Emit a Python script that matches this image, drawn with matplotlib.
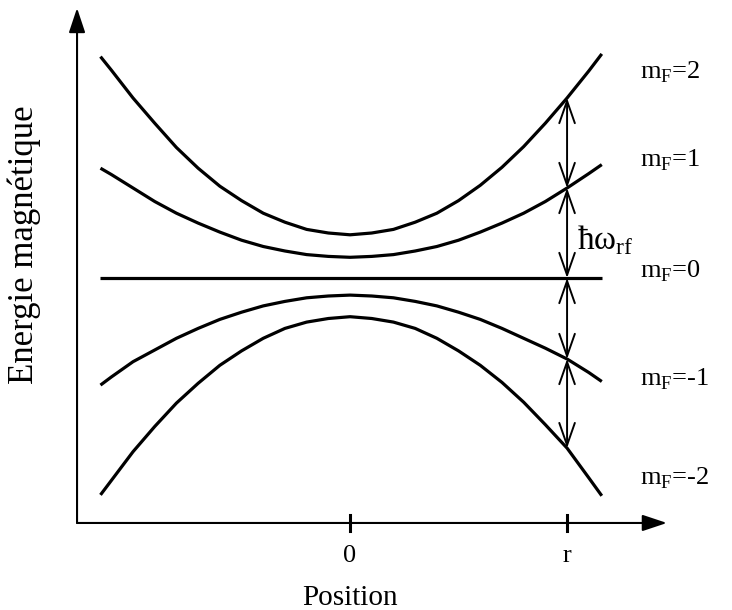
import matplotlib
matplotlib.use("Agg")
import matplotlib.pyplot as plt
from matplotlib.patches import FancyArrowPatch

plt.rcParams["font.family"] = ["Liberation Serif", "DejaVu Serif"]
plt.rcParams["mathtext.fontset"] = "custom"
plt.rcParams["mathtext.rm"] = "Liberation Serif"

# position along the trap (0 at centre, r = 1)
position = [-1.15, -1.1, -1.0, -0.9, -0.8, -0.7, -0.6, -0.5, -0.4, -0.3, -0.2, -0.1, 0.0,
            0.1, 0.2, 0.3, 0.4, 0.5, 0.6, 0.7, 0.8, 0.9, 1.0, 1.1, 1.16]

# magnetic energy of each Zeeman sub-level (units of hbar*omega_rf)
energy_mf2 = [2.46, 2.31, 2.00, 1.72, 1.45, 1.22, 1.02, 0.86, 0.72, 0.62, 0.54, 0.50, 0.48,
              0.50, 0.54, 0.62, 0.72, 0.86, 1.03, 1.23, 1.46, 1.72, 2.00, 2.30, 2.49]
energy_mf1 = [1.22, 1.15, 1.00, 0.85, 0.72, 0.61, 0.51, 0.42, 0.35, 0.30, 0.26, 0.24, 0.23,
              0.24, 0.26, 0.30, 0.35, 0.42, 0.51, 0.61, 0.72, 0.85, 1.00, 1.16, 1.26]
energy_mf0 = [0.0] * 25
energy_mfm1 = [-1.19, -1.10, -0.93, -0.80, -0.67, -0.56, -0.46, -0.38, -0.31, -0.26, -0.22, -0.20, -0.19,
               -0.20, -0.22, -0.26, -0.31, -0.38, -0.46, -0.56, -0.67, -0.78, -0.90, -1.05, -1.15]
energy_mfm2 = [-2.41, -2.25, -1.93, -1.65, -1.39, -1.17, -0.97, -0.81, -0.67, -0.56, -0.49, -0.45, -0.43,
               -0.45, -0.49, -0.56, -0.67, -0.81, -0.97, -1.16, -1.38, -1.63, -1.89, -2.22, -2.42]

levels = [energy_mf2, energy_mf1, energy_mf0, energy_mfm1, energy_mfm2]
level_labels = ["2", "1", "0", "-1", "-2"]
label_heights = [2.29, 1.31, 0.07, -1.13, -2.22]

tick_positions = [0.0, 1.0]
tick_labels = ["0", "r"]
r_value = 1.0

fig = plt.figure(figsize=(7.32, 6.10), dpi=100)
ax = fig.add_axes([0, 0, 1, 1])
ax.set_xlim(-1.613, 1.760)
ax.set_ylim(-3.689, 3.089)
ax.axis("off")

axis_x = -1.258
axis_y = -2.722

# axes with arrow heads
for start, end in [((axis_x, axis_y), (axis_x, 3.0)),
                   ((axis_x, axis_y), (1.46, axis_y))]:
    ax.add_patch(FancyArrowPatch(start, end, arrowstyle="-|>,head_length=0.75,head_width=0.25",
                                 mutation_scale=20, lw=1.5, color="black",
                                 shrinkA=0, shrinkB=0))

for t, lab in zip(tick_positions, tick_labels):
    ax.plot([t, t], [axis_y - 0.09, axis_y + 0.09], color="black", lw=2.2)
    ax.text(t, -3.09, lab, ha="center", va="center", fontsize=19)

for energies, lab, h in zip(levels, level_labels, label_heights):
    ax.plot(position, energies, color="black", lw=2.3, solid_capstyle="butt")
    ax.text(1.336, h, r"m$_\mathregular{F}$=" + lab, ha="left", va="center", fontsize=19)

# double arrows between neighbouring levels at r
r_index = position.index(r_value)
at_r = [energies[r_index] for energies in levels]
for upper, lower in zip(at_r[:-1], at_r[1:]):
    ax.add_patch(FancyArrowPatch((r_value, lower), (r_value, upper),
                                 arrowstyle="<->,head_length=0.8,head_width=0.28",
                                 mutation_scale=20, lw=1.4, color="black",
                                 shrinkA=0, shrinkB=0))

ax.text(1.046, 0.42, "ħω$_\\mathregular{rf}$", ha="left", va="center", fontsize=24)

ax.text(0.0, -3.56, "Position", ha="center", va="center", fontsize=21)
ax.text(-1.502, 0.37, "Energie magnétique", ha="center", va="center",
        rotation=90, fontsize=25)

fig.savefig("out.png", dpi=100, facecolor="white")
